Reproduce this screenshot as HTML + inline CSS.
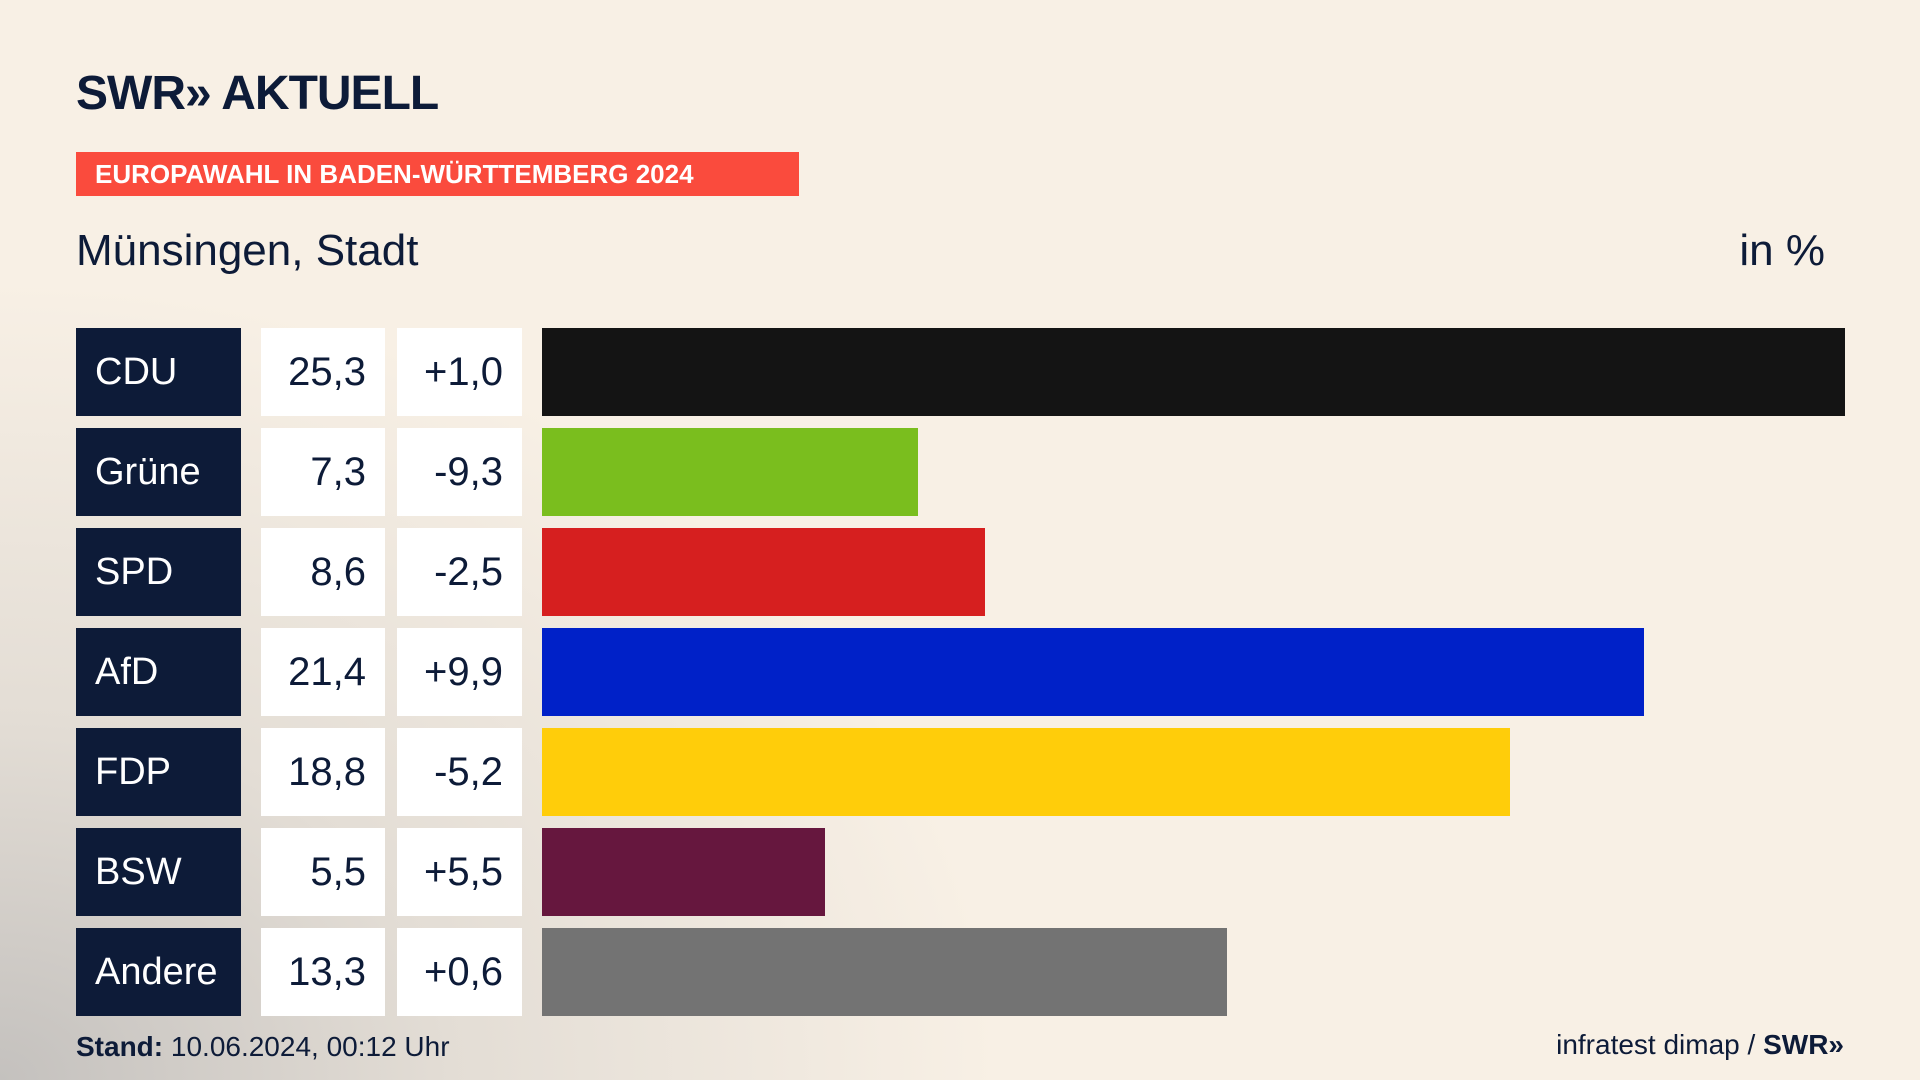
<!DOCTYPE html>
<html><head><meta charset="utf-8"><style>
body{margin:0;width:1920px;height:1080px;overflow:hidden;font-family:"Liberation Sans",sans-serif;}
#bg{position:absolute;left:0;top:0;width:1920px;height:1080px;background:radial-gradient(ellipse 1000px 800px at 0px 1080px,#c4c1be 0%,#e3ddd5 45%,rgba(248,240,230,0) 100%),#f8f0e5;}
.abs{position:absolute;}
.lbl{position:absolute;left:76px;width:165px;height:88px;background:#0d1b38;color:#fff;font-size:38px;line-height:88px;box-sizing:border-box;padding-left:19px;}
.val,.dif{position:absolute;height:88px;background:#fff;color:#0d1b38;font-size:40px;line-height:88px;text-align:right;box-sizing:border-box;padding-right:19px;}
.val{left:261px;width:124px}.dif{left:397px;width:125px}
.bar{position:absolute;height:88px;}
</style></head><body>
<div id="bg"></div>
<div class="abs" style="left:76px;top:66px;font-size:48px;font-weight:bold;color:#0d1b38;letter-spacing:-1px">SWR» AKTUELL</div>
<div class="abs" style="left:76px;top:152px;width:723px;height:44px;background:#fa4b3d;color:#fff;font-weight:bold;font-size:26px;line-height:44px;padding-left:19px;box-sizing:border-box">EUROPAWAHL IN BADEN-WÜRTTEMBERG 2024</div>
<div class="abs" style="left:76px;top:226px;font-size:44px;color:#0d1b38">Münsingen, Stadt</div>
<div class="abs" style="left:1700px;width:125px;text-align:right;top:226px;font-size:44px;color:#0d1b38">in %</div>
<div id="chart"></div>
<div class="abs" style="left:76px;top:1031px;font-size:28px;color:#0d1b38"><b>Stand:</b> 10.06.2024, 00:12 Uhr</div>
<div class="abs" style="left:400px;width:1444px;text-align:right;top:1029px;font-size:28px;color:#0d1b38">infratest dimap / <b>SWR»</b></div>
<script>
const parties=["CDU","Grüne","SPD","AfD","FDP","BSW","Andere"];
const values=[25.3,7.3,8.6,21.4,18.8,5.5,13.3];
const diffs=["+1,0","-9,3","-2,5","+9,9","-5,2","+5,5","+0,6"];
const colors=["#141414","#7abe1e","#d61f1f","#0021c8","#ffcd0a","#66173e","#737373"];
const x0=542,xMax=1845,vMax=25.3;
function xs(v){return (v/vMax)*(xMax-x0);}
function ys(i){return 328+i*100;}
const c=document.getElementById('chart');
parties.forEach((p,i)=>{
 const y=ys(i);
 const a=document.createElement('div');a.className='lbl';a.style.top=y+'px';a.textContent=p;
 
 c.appendChild(a);
 const v=document.createElement('div');v.className='val';v.style.top=y+'px';v.textContent=values[i].toFixed(1).replace('.',',');
 
 c.appendChild(v);
 const d=document.createElement('div');d.className='dif';d.style.top=y+'px';d.textContent=diffs[i];
 
 c.appendChild(d);
 const b=document.createElement('div');b.className='bar';b.style.top=y+'px';b.style.left=x0+'px';b.style.width=xs(values[i])+'px';b.style.background=colors[i];
 
 c.appendChild(b);
});
</script>
</body></html>
